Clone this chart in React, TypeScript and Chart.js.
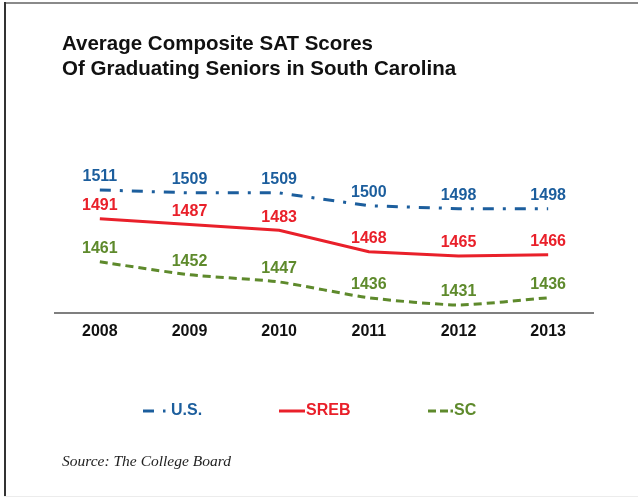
import React, { useEffect, useRef } from "react";
import { Chart, registerables } from "chart.js";

Chart.register(...registerables);

const years = ["2008", "2009", "2010", "2011", "2012", "2013"];
const usScores = [1511, 1509, 1509, 1500, 1498, 1498];
const srebScores = [1491, 1487, 1483, 1468, 1465, 1466];
const scScores = [1461, 1452, 1447, 1436, 1431, 1436];
const titleLines = ["Average Composite SAT Scores", "Of Graduating Seniors in South Carolina"];
const sourceText = "Source: The College Board";

const BLUE = "#1c5e9d";
const RED = "#e9202a";
const GREEN = "#5e8a2c";
const W = 638;
const H = 497;

const overlay = {
  id: "overlay",
  afterDatasetsDraw(chart: any) {
    const ctx = chart.ctx;
    ctx.save();
    ctx.font = "bold 16px 'Liberation Sans', Arial, sans-serif";
    ctx.textAlign = "center";
    ctx.textBaseline = "middle";
    chart.data.datasets.forEach((ds: any, i: number) => {
      const meta = chart.getDatasetMeta(i);
      ctx.fillStyle = ds.borderColor;
      meta.data.forEach((pt: any, j: number) => {
        ctx.fillText(String(ds.data[j]), pt.x, pt.y - 13);
      });
    });
    ctx.restore();
  },
  afterDraw(chart: any) {
    const ctx = chart.ctx;
    ctx.save();
    ctx.fillStyle = "#8a8a8a";
    ctx.fillRect(4, 2, W - 4, 2);
    ctx.fillStyle = "#333333";
    ctx.fillRect(4, 2, 2, H - 3);
    ctx.fillStyle = "#ececec";
    ctx.fillRect(4, H - 1, W - 4, 1);

    ctx.fillStyle = "#111111";
    ctx.font = "bold 20.5px 'Liberation Sans', Arial, sans-serif";
    ctx.textAlign = "left";
    ctx.textBaseline = "middle";
    ctx.fillText(titleLines[0], 62, 44);
    ctx.fillText(titleLines[1], 62, 69);

    const ly = 411;
    ctx.lineWidth = 3;
    ctx.lineCap = "butt";
    ctx.font = "bold 16px 'Liberation Sans', Arial, sans-serif";
    ctx.strokeStyle = BLUE;
    ctx.fillStyle = BLUE;
    ctx.beginPath();
    ctx.moveTo(143, ly);
    ctx.lineTo(154, ly);
    ctx.stroke();
    ctx.fillRect(163, ly - 1.5, 2.5, 3);
    ctx.fillText(chart.data.datasets[0].label, 171, ly);
    ctx.strokeStyle = RED;
    ctx.fillStyle = RED;
    ctx.beginPath();
    ctx.moveTo(279, ly);
    ctx.lineTo(305, ly);
    ctx.stroke();
    ctx.fillText(chart.data.datasets[1].label, 306, ly);
    ctx.strokeStyle = GREEN;
    ctx.fillStyle = GREEN;
    ctx.beginPath();
    ctx.moveTo(428, ly);
    ctx.lineTo(436, ly);
    ctx.moveTo(440, ly);
    ctx.lineTo(448, ly);
    ctx.stroke();
    ctx.fillRect(450.5, ly - 1.5, 2.5, 3);
    ctx.fillText(chart.data.datasets[2].label, 454, ly);

    ctx.fillStyle = "#222222";
    ctx.font = "italic 15.5px 'Liberation Serif', 'DejaVu Serif', serif";
    ctx.fillText(sourceText, 62, 462);
    ctx.restore();
  },
};

export default function App() {
  const ref = useRef<HTMLCanvasElement>(null);
  useEffect(() => {
    if (!ref.current) return;
    const chart = new Chart(ref.current, {
      type: "line",
      data: {
        labels: years,
        datasets: [
          {
            label: "U.S.",
            data: usScores,
            borderColor: BLUE,
            backgroundColor: BLUE,
            borderWidth: 3,
            borderDash: [11, 9, 3, 9],
            pointRadius: 0,
            tension: 0,
          },
          {
            label: "SREB",
            data: srebScores,
            borderColor: RED,
            backgroundColor: RED,
            borderWidth: 3,
            pointRadius: 0,
            tension: 0,
          },
          {
            label: "SC",
            data: scScores,
            borderColor: GREEN,
            backgroundColor: GREEN,
            borderWidth: 3,
            borderDash: [8, 5],
            pointRadius: 0,
            tension: 0.2,
          },
        ],
      },
      options: {
        responsive: false,
        animation: false,
        layout: { padding: { left: 55, right: 45, top: 148, bottom: 0 } },
        plugins: {
          legend: { display: false },
          title: { display: false },
          tooltip: { enabled: false },
        },
        scales: {
          y: { display: false, min: 1425.4, max: 1540.2 },
          x: {
            offset: true,
            grid: { display: false, drawTicks: false, tickLength: 0 },
            border: { display: true, color: "#7f7f7f", width: 2 },
            ticks: {
              color: "#111111",
              padding: 9,
              font: { family: "'Liberation Sans', Arial, sans-serif", size: 16, weight: "bold" },
            },
            afterFit: (s: any) => {
              s.height = H - 313;
            },
          },
        },
      },
      plugins: [overlay],
    });
    return () => chart.destroy();
  }, []);
  return (
    <div style={{ position: "fixed", left: 0, top: 0, width: W, height: H, background: "#fff" }}>
      <canvas ref={ref} width={W} height={H} style={{ display: "block", width: W, height: H }} />
    </div>
  );
}
